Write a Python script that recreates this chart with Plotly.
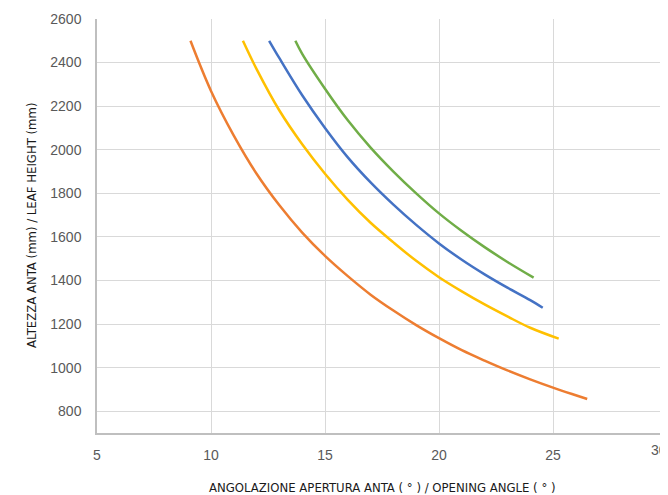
import plotly.graph_objects as go

# Opening angle (deg) / leaf height (mm)
orange_x = [9.1, 10, 11, 12, 13, 14, 15, 16, 17, 18, 19, 20, 21, 22, 23, 24, 25, 26, 26.5]
orange_y = [2500, 2270, 2065, 1890, 1745, 1620, 1513, 1420, 1335, 1262, 1195, 1135, 1080, 1032, 987, 946, 908, 873, 856]

yellow_x = [11.4, 12, 13, 14, 15, 16, 17, 18, 19, 20, 21, 22, 23, 24, 25.25]
yellow_y = [2500, 2370, 2180, 2025, 1890, 1770, 1665, 1575, 1490, 1415, 1350, 1290, 1235, 1183, 1133]

blue_x = [12.55, 13, 14, 15, 16, 17, 18, 19, 20, 21, 22, 23, 24, 24.55]
blue_y = [2500, 2420, 2250, 2100, 1965, 1850, 1748, 1655, 1570, 1495, 1428, 1367, 1310, 1275]

green_x = [13.7, 14, 15, 16, 17, 18, 19, 20, 21, 22, 23, 24.15]
green_y = [2500, 2440, 2280, 2135, 2010, 1900, 1800, 1708, 1627, 1553, 1485, 1413]

x_ticks = [5, 10, 15, 20, 25, 30]
y_ticks = [800, 1000, 1200, 1400, 1600, 1800, 2000, 2200, 2400, 2600]

x_title = "ANGOLAZIONE APERTURA ANTA ( ° ) / OPENING ANGLE ( ° )"
y_title = "ALTEZZA ANTA (mm) / LEAF HEIGHT (mm)"

series = [
    (orange_x, orange_y, "#ED7D31"),
    (yellow_x, yellow_y, "#FFC000"),
    (blue_x, blue_y, "#4472C4"),
    (green_x, green_y, "#70AD47"),
]

fig = go.Figure()
for xs, ys, col in series:
    fig.add_trace(go.Scatter(x=xs, y=ys, mode="lines",
                             line=dict(color=col, width=2.5, shape="spline", smoothing=1.0),
                             showlegend=False, hoverinfo="x+y"))

tick_font = dict(family="Liberation Sans, Arial", size=14, color="#595959")
title_font = dict(family="DejaVu Sans Condensed, Roboto, Arial", size=13, color="#1a1a1a")

# the last x tick label sits on the page edge; it is drawn as a right-anchored annotation
x_ticktext = [str(v) for v in x_ticks[:-1]] + [""]

# page body has an 8px default margin, so the figure is sized to the visible area
fig.update_layout(
    width=660, height=487,
    margin=dict(l=89, r=1, t=11, b=62, autoexpand=False),
    paper_bgcolor="white", plot_bgcolor="white",
    showlegend=False,
)
fig.update_xaxes(
    range=[5, 30], tickvals=x_ticks, ticktext=x_ticktext,
    showgrid=True, gridcolor="#d9d9d9", gridwidth=1,
    showline=True, linecolor="#bfbfbf", linewidth=1.5,
    zeroline=False, tickfont=tick_font, ticks="outside", ticklen=8, tickcolor="rgba(0,0,0,0)",
    automargin=False, ticklabeloverflow="allow",
)
fig.update_yaxes(
    range=[700, 2600], tickvals=y_ticks, ticktext=[str(v) for v in y_ticks],
    showgrid=True, gridcolor="#d9d9d9", gridwidth=1,
    showline=True, linecolor="#bfbfbf", linewidth=1.5,
    zeroline=False, tickfont=tick_font, ticks="outside", ticklen=11, tickcolor="rgba(0,0,0,0)",
    automargin=False, ticklabeloverflow="allow",
)
fig.add_annotation(text=str(x_ticks[-1]), xref="paper", yref="paper", x=1, y=0,
                   xanchor="right", yanchor="top", yshift=-8, xshift=1, showarrow=False,
                   font=tick_font, borderpad=0)
fig.add_annotation(text=x_title, xref="paper", yref="paper", x=0.5, y=0,
                   xanchor="center", yanchor="middle", yshift=-54, showarrow=False, font=title_font)
fig.add_annotation(text=y_title, xref="paper", yref="paper", x=0, y=0.5,
                   xanchor="center", yanchor="middle", xshift=-66, textangle=-90,
                   showarrow=False, font=title_font)

fig.write_html("out.html")
